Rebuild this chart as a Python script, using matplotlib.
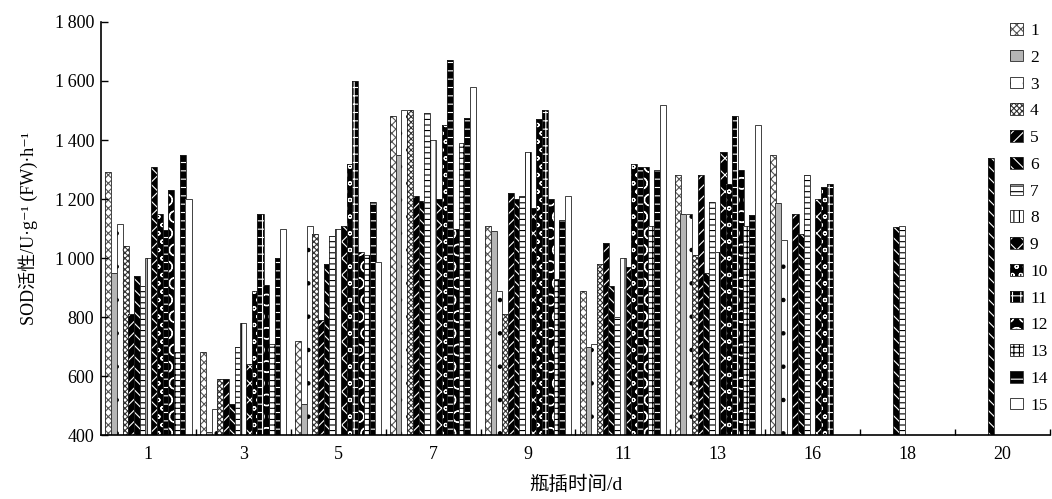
import numpy as np
import matplotlib
matplotlib.use('Agg')
import matplotlib.pyplot as plt
from matplotlib.patches import Patch

# 瓶插时间 (d) と各処理 1-15 の SOD 活性
days = ['1', '3', '5', '7', '9', '11', '13', '16', '18', '20']
series_names = [str(i) for i in range(1, 16)]
nan = np.nan
sod_d1 = [1290, 950, 1115, 1040, 810, 940, 905, 1000, 1310, 1150, 1095, 1230, 680, 1350, 1200]
sod_d3 = [680, 410, 490, 590, 590, 505, 700, 780, 640, 890, 1150, 910, 710, 1000, 1100]
sod_d5 = [720, 505, 1110, 1080, 790, 980, 1075, 1100, 1110, 1320, 1600, 1020, 1010, 1190, 985]
sod_d7 = [1480, 1350, 1500, 1500, 1210, 1195, 1490, 1400, 1200, 1450, 1670, 1100, 1390, 1475, 1580]
sod_d9 = [1110, 1090, 890, 810, 1220, 1200, 1210, 1360, 1170, 1470, 1500, 1200, 930, 1130, 1210]
sod_d11 = [890, 700, 710, 980, 1050, 905, 800, 1000, 970, 1320, 1310, 1310, 1110, 1300, 1520]
sod_d13 = [1280, 1150, 1150, 1010, 1280, 950, 1190, 1020, 1360, 1250, 1480, 1300, 1110, 1145, 1450]
sod_d16 = [1350, 1185, 1060, nan, 1150, 1080, 1280, nan, 1200, 1240, 1250, nan, nan, nan, nan]
sod_d18 = [nan, nan, nan, nan, nan, 1105, 1110, nan, nan, nan, nan, nan, nan, nan, nan]
sod_d20 = [nan, nan, nan, nan, nan, 1340, nan, nan, nan, nan, nan, nan, nan, nan, nan]

data = np.array([sod_d1, sod_d3, sod_d5, sod_d7, sod_d9, sod_d11,
                 sod_d13, sod_d16, sod_d18, sod_d20], dtype=float)

# (塗り色, ハッチ, ハッチ色)
styles = [
    ('white', 'xxxx', '#555555'),
    ('#b5b5b5', '', '#b5b5b5'),
    ('white', '.', 'black'),
    ('white', 'xxxxxx', '#333333'),
    ('black', '///', 'white'),
    ('black', '\\\\\\', 'white'),
    ('white', '---', 'black'),
    ('white', '|||', 'black'),
    ('black', 'xx', 'white'),
    ('black', 'oo', 'white'),
    ('black', '++', 'white'),
    ('black', 'O', 'white'),
    ('white', '+++', 'black'),
    ('black', '--', 'white'),
    ('white', '', 'white'),
]

serif = ['Liberation Serif', 'DejaVu Serif', 'Noto Sans CJK SC']
plt.rcParams['font.family'] = serif
plt.rcParams['hatch.linewidth'] = 0.8

fig = plt.figure(figsize=(10.52, 4.99), dpi=100)
ax = fig.add_axes([0.096, 0.128, 0.902, 0.828])

x = np.arange(len(days))
n = len(series_names)
step = 0.905 / n
width = step * 1.06

handles = []
for j in range(n):
    fc, hatch, hc = styles[j]
    pos = x + (j - (n - 1) / 2) * step
    vals = data[:, j]
    ax.bar(pos, vals - 400, width, bottom=400, color=fc, hatch=hatch,
           edgecolor=hc, linewidth=0)
    ax.bar(pos, vals - 400, width, bottom=400, fill=False,
           edgecolor='#222222', linewidth=0.6)
    handles.append((Patch(facecolor=fc, hatch=hatch, edgecolor=hc, linewidth=0),
                    Patch(fill=False, edgecolor='#222222', linewidth=0.6)))

ax.set_xlim(-0.5, len(days) - 0.5)
ax.set_ylim(400, 1800)
ax.set_yticks(np.arange(400, 1801, 200))
ax.set_yticklabels([f'{v:,}'.replace(',', '\u2009') for v in range(400, 1801, 200)])

ax.set_xticks(np.arange(0.5, len(days) - 0.4, 1))
ax.set_xticklabels([])
ax.set_xticks(x, minor=True)
ax.set_xticklabels(days, minor=True)
ax.tick_params(axis='x', which='major', direction='in', length=4, width=1)
ax.tick_params(axis='x', which='minor', length=0, pad=8, labelsize=13)
ax.tick_params(axis='y', direction='in', length=5, width=1, labelsize=13, pad=5)

for s in ['top', 'right']:
    ax.spines[s].set_visible(False)
for s in ['left', 'bottom']:
    ax.spines[s].set_linewidth(1.2)

ax.set_ylabel('SOD活性/U·g⁻¹ (FW)·h⁻¹', fontsize=13, labelpad=12)
ax.set_xlabel('瓶插时间/d', fontsize=14, labelpad=9)

fig.legend(handles, series_names, loc='upper left',
           bbox_to_anchor=(1010 / 1052, 1 - 23 / 499), frameon=False,
           fontsize=12.5, handlelength=0.75, handleheight=0.65,
           handletextpad=0.4, labelspacing=0.62, borderaxespad=0,
           borderpad=0)

fig.savefig('out.png', dpi=100)
